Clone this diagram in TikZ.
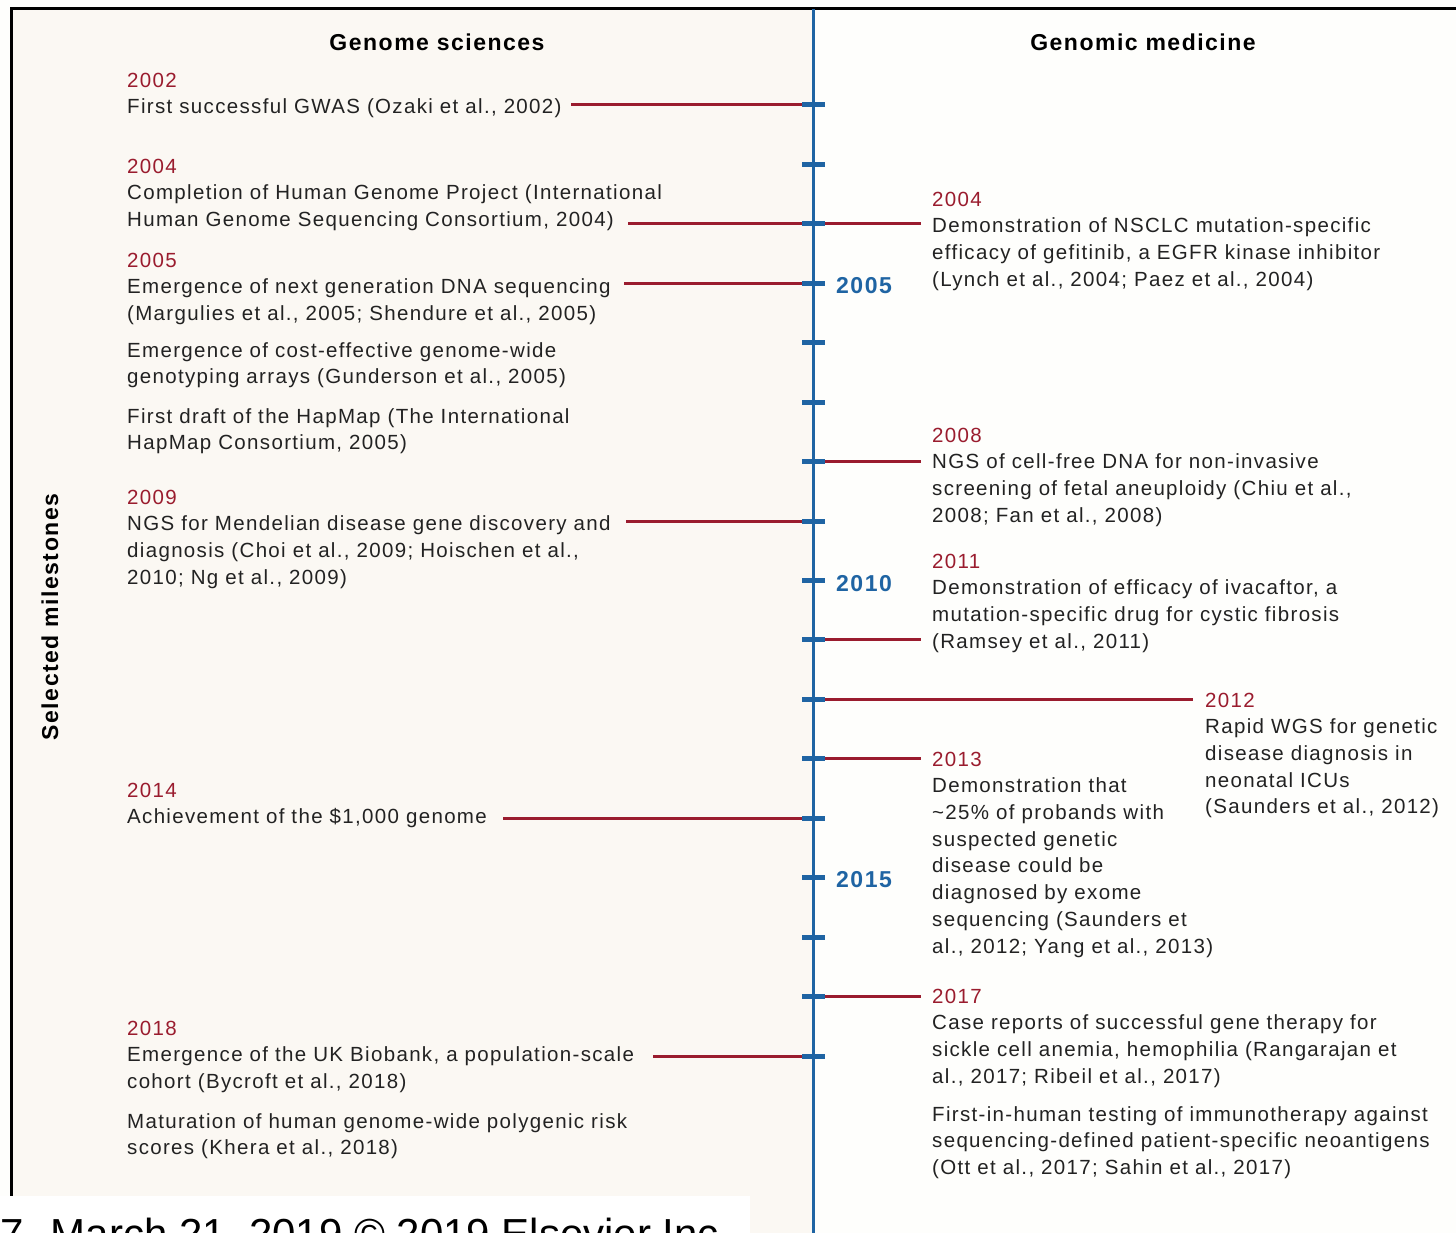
\documentclass[tikz,border=0pt]{standalone}
\usepackage{fontspec}
\setmainfont{Liberation Sans}[LetterSpace=6.5]
\newfontfamily\plainsans{Liberation Sans}
\definecolor{beige}{HTML}{FBF8F3}
\definecolor{rightbg}{HTML}{FEFEFC}
\definecolor{myred}{HTML}{9A1C2E}
\definecolor{myblue}{HTML}{1F64A3}
\definecolor{ink}{HTML}{222222}
\newcommand{\Yr}[1]{\textcolor{myred}{#1}}
\tikzset{
  blk/.style={anchor=north west, inner sep=0pt, align=left, text=ink, font=\fontsize{20.5}{26.7}\selectfont},
  conn/.style={draw=myred, line width=3pt},
  tickmark/.style={draw=myblue, line width=5pt},
  axis/.style={draw=myblue, line width=3pt},
  yearlab/.style={anchor=west, inner sep=0pt, text=myblue, font=\bfseries\fontsize{23}{27}\selectfont},
  head/.style={inner sep=0pt, text=black, font=\bfseries\fontsize{23}{28}\selectfont}
}
\begin{document}
\begin{tikzpicture}[x=1pt,y=-1pt]
\useasboundingbox (0,0) rectangle (1456,1233);
\clip (0,0) rectangle (1456,1233);
% backgrounds
\fill[rightbg] (0,0) rectangle (1456,1233);
\fill[beige] (11,9) rectangle (813,1233);
\draw[black, line width=3pt] (11,1196) -- (11,9) -- (1456,9);

% headers
\node[head] (hL) at (437,42) {Genome sciences};
\node[head] (hR) at (1143,42) {Genomic medicine};
\node[head, rotate=90] (side) at (50,617) {Selected milestones};

% timeline coordinates
\foreach \i in {0,...,16} {
  \coordinate (t\i) at (813,{105+\i*59.44});
}
\coordinate (top) at (813,9);
\coordinate (bot) at (813,1233);

% left connector starts
\coordinate (a0) at (571,105);
\coordinate (a2) at (628,{105+2*59.44});
\coordinate (a3) at (624,{105+3*59.44});
\coordinate (a7) at (626,{105+7*59.44});
\coordinate (a12) at (503,{105+12*59.44});
\coordinate (a16) at (653,{105+16*59.44});
% right connector ends
\coordinate (b2) at (921,{105+2*59.44});
\coordinate (b6) at (921,{105+6*59.44});
\coordinate (b9) at (921,{105+9*59.44});
\coordinate (b10) at (1193,{105+10*59.44});
\coordinate (b11) at (921,{105+11*59.44});
\coordinate (b15) at (921,{105+15*59.44});

\draw[conn] (a0) -- (t0);
\draw[conn] (a2) -- (t2) -- (b2);
\draw[conn] (a3) -- (t3);
\draw[conn] (t6) -- (b6);
\draw[conn] (a7) -- (t7);
\draw[conn] (t9) -- (b9);
\draw[conn] (t10) -- (b10);
\draw[conn] (t11) -- (b11);
\draw[conn] (a12) -- (t12);
\draw[conn] (t15) -- (b15);
\draw[conn] (a16) -- (t16);

\draw[axis] (top) -- (bot);
\foreach \i in {0,...,16} {
  \draw[tickmark] ([xshift=-11pt]t\i) -- ([xshift=12pt]t\i);
}

% blue year labels
\node[yearlab] (y2005) at (836,286) {2005};
\node[yearlab] (y2010) at (836,584) {2010};
\node[yearlab] (y2015) at (836,880) {2015};

% left blocks
\node[blk] (L1) at (127,68.3) {\strut\Yr{2002}\\First successful GWAS (Ozaki et al., 2002)};
\node[blk] (L2) at (127,154.3) {\strut\Yr{2004}\\Completion of Human Genome Project (International\\Human Genome Sequencing Consortium, 2004)};
\node[blk] (L3) at (127,248.3) {\strut\Yr{2005}\\Emergence of next generation DNA sequencing\\(Margulies et al., 2005; Shendure et al., 2005)};
\node[blk] (L4) at (127,338.3) {\strut Emergence of cost-effective genome-wide\\genotyping arrays (Gunderson et al., 2005)};
\node[blk] (L5) at (127,404.3) {\strut First draft of the HapMap (The International\\HapMap Consortium, 2005)};
\node[blk] (L6) at (127,485.3) {\strut\Yr{2009}\\NGS for Mendelian disease gene discovery and\\diagnosis (Choi et al., 2009; Hoischen et al.,\\2010; Ng et al., 2009)};
\node[blk] (L7) at (127,778.3) {\strut\Yr{2014}\\Achievement of the \$1,000 genome};
\node[blk] (L8) at (127,1016.3) {\strut\Yr{2018}\\Emergence of the UK Biobank, a population-scale\\cohort (Bycroft et al., 2018)};
\node[blk] (L9) at (127,1109.3) {\strut Maturation of human genome-wide polygenic risk\\scores (Khera et al., 2018)};

% right blocks
\node[blk] (R1) at (932,187.3) {\strut\Yr{2004}\\Demonstration of NSCLC mutation-specific\\efficacy of gefitinib, a EGFR kinase inhibitor\\(Lynch et al., 2004; Paez et al., 2004)};
\node[blk] (R2) at (932,423.3) {\strut\Yr{2008}\\NGS of cell-free DNA for non-invasive\\screening of fetal aneuploidy (Chiu et al.,\\2008; Fan et al., 2008)};
\node[blk] (R3) at (932,549.3) {\strut\Yr{2011}\\Demonstration of efficacy of ivacaftor, a\\mutation-specific drug for cystic fibrosis\\(Ramsey et al., 2011)};
\node[blk] (R4) at (1205,688.3) {\strut\Yr{2012}\\Rapid WGS for genetic\\disease diagnosis in\\neonatal ICUs\\(Saunders et al., 2012)};
\node[blk] (R5) at (932,747.3) {\strut\Yr{2013}\\Demonstration that\\\textasciitilde25\% of probands with\\suspected genetic\\disease could be\\diagnosed by exome\\sequencing (Saunders et\\al., 2012; Yang et al., 2013)};
\node[blk] (R6) at (932,984.3) {\strut\Yr{2017}\\Case reports of successful gene therapy for\\sickle cell anemia, hemophilia (Rangarajan et\\al., 2017; Ribeil et al., 2017)};
\node[blk] (R7) at (932,1102.3) {\strut First-in-human testing of immunotherapy against\\sequencing-defined patient-specific neoantigens\\(Ott et al., 2017; Sahin et al., 2017)};

% cut-off footer strip
\fill[white] (0,1196) rectangle (750,1233);
\node[anchor=base west, inner sep=0pt, text=black, font=\plainsans\fontsize{42}{48}\selectfont] (foot) at (0,1248) {7. March 21, 2019 © 2019 Elsevier Inc.};
\end{tikzpicture}
\end{document}
